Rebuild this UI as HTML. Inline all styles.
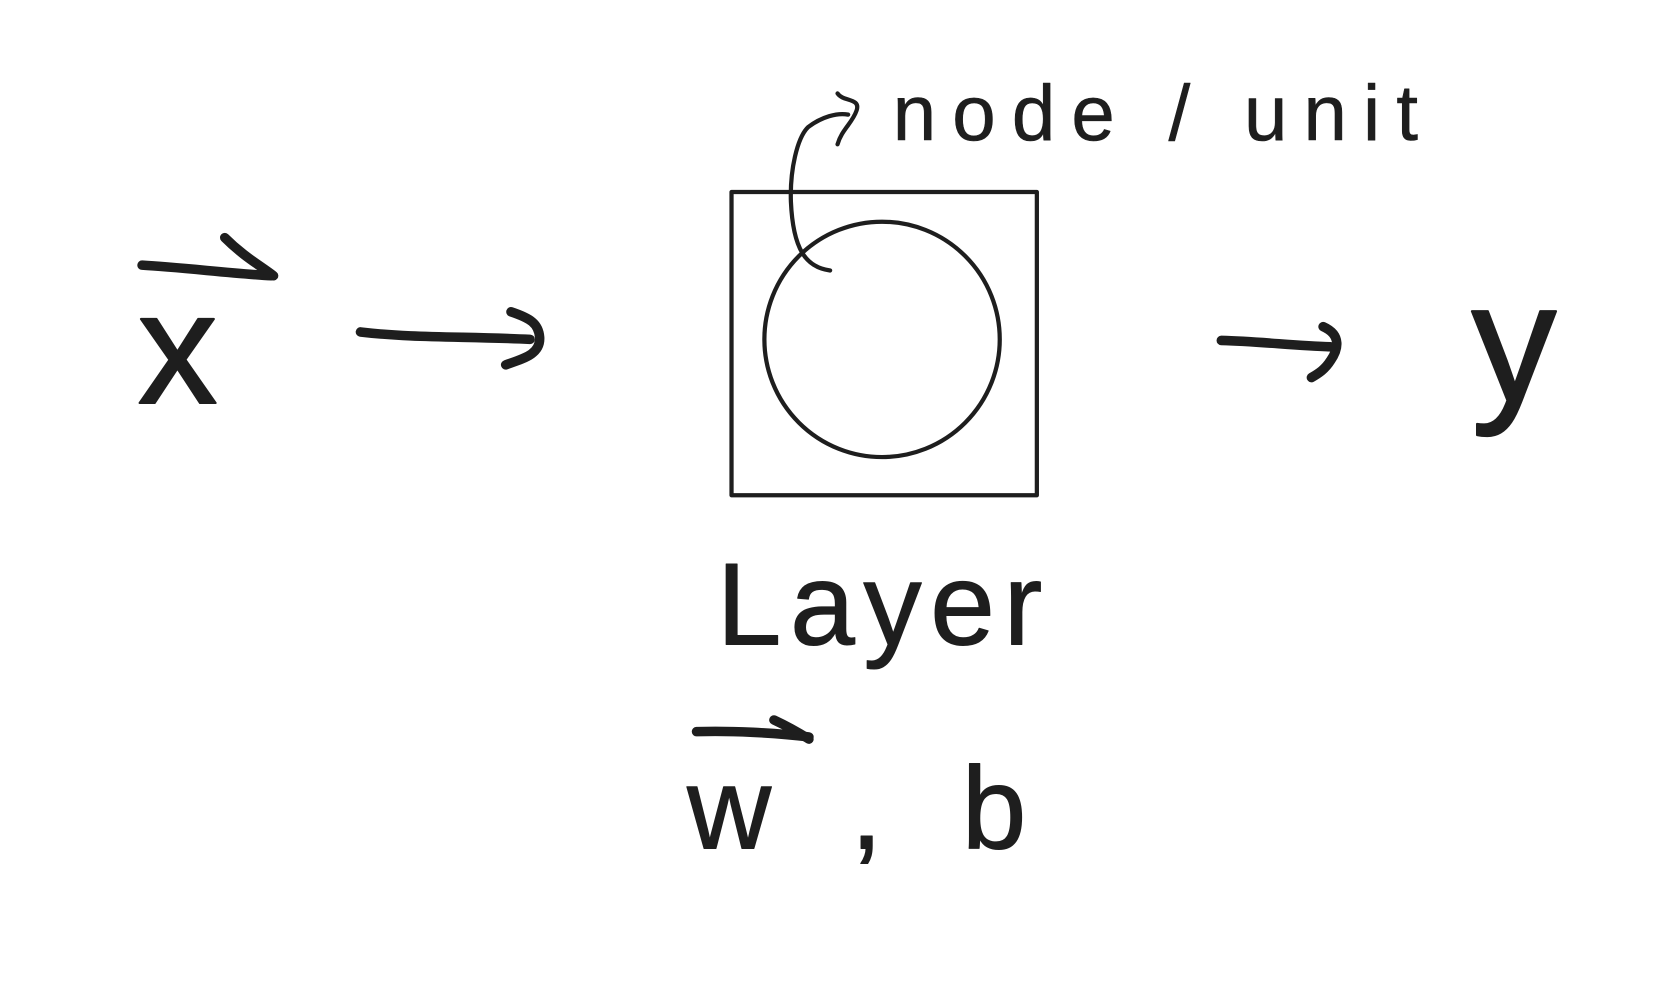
<!DOCTYPE html>
<html><head><meta charset="utf-8"><style>
html,body{margin:0;padding:0;background:#fff;width:1656px;height:1000px;overflow:hidden}
svg{display:block}
text{font-family:"Liberation Sans",sans-serif;fill:#1e1e1e;stroke:#1e1e1e;stroke-linejoin:round}
</style></head><body>
<svg width="1656" height="1000" viewBox="0 0 1562 943" xmlns="http://www.w3.org/2000/svg">
<g fill="none" stroke="#1e1e1e" stroke-linecap="round" stroke-linejoin="round">
<rect x="690" y="181" width="288" height="286" stroke-width="4"/>
<circle cx="832" cy="320" r="111" stroke-width="4"/>
<path d="M783 255 C760 252 748 235 746 190 C745 160 752 130 762 120 C775 110 790 106 800 108" stroke-width="4"/>
<path d="M790 88 C795 96 812 92 808 104 C804 116 794 122 790 136" stroke-width="4"/>
<path d="M340 313 C390 319 440 317 500 320" stroke-width="9"/>
<path d="M482 294 C500 300 508 305 509 318 C510 334 494 338 477 344" stroke-width="9"/>
<path d="M1152 321 C1190 322 1220 326 1255 327" stroke-width="9"/>
<path d="M1248 308 C1266 316 1262 330 1255 340 C1250 348 1244 352 1237 356" stroke-width="9"/>
<path d="M134 250 C170 252 220 258 256 260" stroke-width="9"/>
<path d="M212 224 C230 242 245 250 258 260" stroke-width="9"/>
<path d="M657 690 C690 689 730 691 763 695" stroke-width="9"/>
<path d="M730 679 C745 686 755 692 763 697" stroke-width="9"/>
</g>
<text x="130" y="380" font-size="150" stroke-width="2">x</text>
<text x="1388" y="378" font-size="160" stroke-width="2">y</text>
<text x="842" y="132" font-size="74" stroke-width="0.5" letter-spacing="15">node / unit</text>
<text x="676" y="608" font-size="110" stroke-width="1" letter-spacing="8">Layer</text>
<text x="648" y="800" font-size="110" stroke-width="1" letter-spacing="22">w , b</text>
</svg>
</body></html>
